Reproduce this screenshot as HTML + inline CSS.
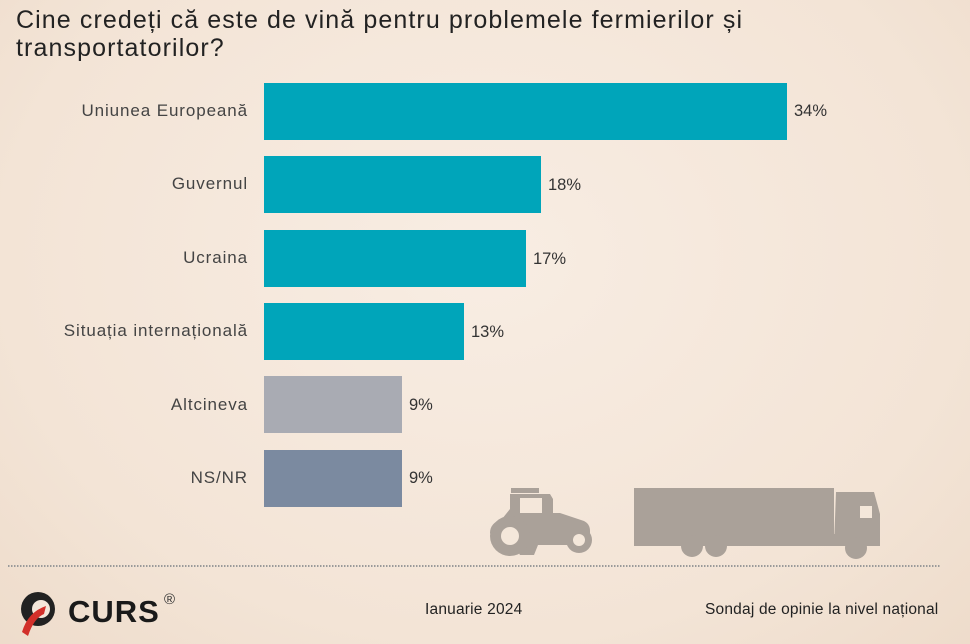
<!DOCTYPE html>
<html><head><meta charset="utf-8"><style>
body{margin:0;}
#c{position:relative;width:970px;height:644px;overflow:hidden;background:radial-gradient(ellipse at 50% 40%,#f8ede3 0%,#f3e4d6 70%,#eedccb 100%);font-family:"Liberation Sans",sans-serif;color:#2b2b2b}
.t{position:absolute;left:16px;top:6px;font-size:25px;line-height:28px;color:#222;letter-spacing:1.1px;white-space:nowrap}
.bar{position:absolute;left:264px;height:57px}
.lab{position:absolute;right:722px;font-size:17px;letter-spacing:0.9px;color:#444;text-align:right;white-space:nowrap}
.v{position:absolute;font-size:16.5px;color:#333}
.f{position:absolute;font-size:15.5px;color:#222;letter-spacing:0.2px;white-space:nowrap}
</style></head><body><div id="c">
<div class="t">Cine credeți că este de vină pentru problemele fermierilor și<br>transportatorilor?</div>

<div class="bar" style="top:83px;width:523px;background:#00a5ba"></div>
<div class="lab" style="top:101px">Uniunea Europeană</div><div class="v" style="left:794px;top:102px">34%</div>
<div class="bar" style="top:156px;width:277px;background:#00a5ba"></div>
<div class="lab" style="top:174px">Guvernul</div><div class="v" style="left:548px;top:176px">18%</div>
<div class="bar" style="top:230px;width:262px;background:#00a5ba"></div>
<div class="lab" style="top:248px">Ucraina</div><div class="v" style="left:533px;top:250px">17%</div>
<div class="bar" style="top:303px;width:200px;background:#00a5ba"></div>
<div class="lab" style="top:321px">Situația internațională</div><div class="v" style="left:471px;top:323px">13%</div>
<div class="bar" style="top:376px;width:138px;background:#a9abb3"></div>
<div class="lab" style="top:395px">Altcineva</div><div class="v" style="left:409px;top:396px">9%</div>
<div class="bar" style="top:450px;width:138px;background:#7b8aa0"></div>
<div class="lab" style="top:468px">NS/NR</div><div class="v" style="left:409px;top:469px">9%</div>

<svg style="position:absolute;left:0;top:0" width="970" height="644">
<g fill="#aaa199">
<path d="M510 494 h40 l3 5 v14 h7 l24 8 q6 3 6 10 v10 l-8 4 h-44 l-4 10 h-14 l-6-10 h-18 l-6-12 q0-10 12-14 l8-10 z"/>
<circle cx="510" cy="536" r="20"/><circle cx="579" cy="540" r="13"/>
<rect x="511" y="488" width="28" height="5"/>
<rect x="634" y="488" width="200" height="46"/>
<path d="M836 492 h38 l6 22 v32 h-46 z"/>
<rect x="634" y="534" width="220" height="12"/>
<circle cx="692" cy="546" r="11"/><circle cx="716" cy="546" r="11"/><circle cx="856" cy="548" r="11"/>
</g>
<g fill="#f4e7da"><circle cx="510" cy="536" r="9"/><circle cx="579" cy="540" r="6"/><rect x="520" y="498" width="22" height="15"/><rect x="860" y="506" width="12" height="12"/></g>
<line x1="8" y1="566" x2="940" y2="566" stroke="#9a9a9a" stroke-width="2" stroke-dasharray="1.5 1.5"/>
<circle cx="38" cy="609" r="17" fill="#222"/><circle cx="41" cy="609" r="9" fill="#f4e7da"/>
<path d="M22 632 q6-20 24-26 l-2 8 q-10 4-16 22 z" fill="#d2302a"/>
<text x="68" y="622" font-family="Liberation Sans" font-weight="bold" font-size="31" fill="#1a1a1a" letter-spacing="1">CURS</text>
<text x="164" y="604" font-family="Liberation Sans" font-size="15" fill="#333">®</text>
</svg>
<div class="f" style="left:425px;top:601px">Ianuarie 2024</div>
<div class="f" style="left:705px;top:601px">Sondaj de opinie la nivel național</div>
</div></body></html>
